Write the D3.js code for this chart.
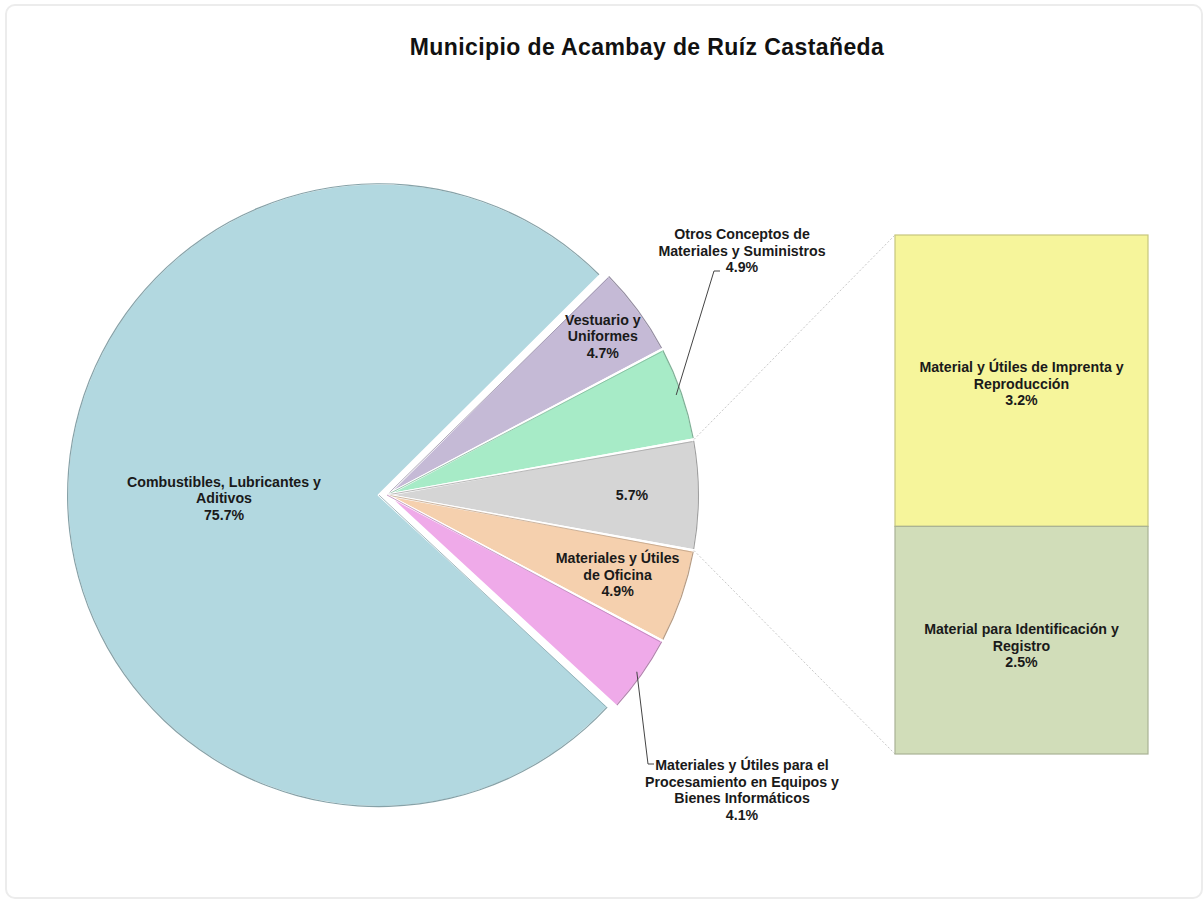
<!DOCTYPE html>
<html>
<head>
<meta charset="utf-8">
<script src="https://cdn.jsdelivr.net/npm/d3@7"></script>
<style>
  html, body { margin: 0; padding: 0; background: #fff; }
  svg { display: block; font-family: "Liberation Sans", Arial, sans-serif; }
</style>
</head>
<body>
<svg id="chart" width="1204" height="903"></svg>
<script>
// Pie slices, listed clockwise starting from the upper right
const pieCategories = [
  "Vestuario y Uniformes",
  "Otros Conceptos de Materiales y Suministros",
  "Otros",
  "Materiales y Útiles de Oficina",
  "Materiales y Útiles para el Procesamiento en Equipos y Bienes Informáticos",
  "Combustibles, Lubricantes y Aditivos"
];
const pieValues = [4.7, 4.9, 5.7, 4.9, 4.1, 75.7];
const pieColors = ["#c5bad6", "#a7ebc7", "#d5d5d5", "#f5d0ae", "#efaae9", "#b2d8e0"];

// Breakdown of the "Otros" slice, stacked top to bottom
const barCategories = [
  "Material y Útiles de Imprenta y Reproducción",
  "Material para Identificación y Registro"
];
const barValues = [3.2, 2.5];
const barColors = ["#f6f59b", "#d1ddb9"];

const title = "Municipio de Acambay de Ruíz Castañeda";

// Label text lines (as wrapped in the chart)
const pieLabelLines = [
  ["Vestuario y", "Uniformes"],
  ["Otros Conceptos de", "Materiales y Suministros"],
  [],
  ["Materiales y Útiles", "de Oficina"],
  ["Materiales y Útiles para el", "Procesamiento en Equipos y", "Bienes Informáticos"],
  ["Combustibles, Lubricantes y", "Aditivos"]
];
const barLabelLines = [
  ["Material y Útiles de Imprenta y", "Reproducción"],
  ["Material para Identificación y", "Registro"]
];

const svg = d3.select("#chart");
const fmt = d => d.toFixed(1) + "%";

// outer frame
svg.append("rect")
  .attr("x", 6).attr("y", 5).attr("width", 1196).attr("height", 893)
  .attr("rx", 9).attr("fill", "#fff")
  .attr("stroke", "#ececec").attr("stroke-width", 2);

svg.append("text")
  .attr("x", 647).attr("y", 55)
  .attr("text-anchor", "middle")
  .attr("font-size", 23).attr("font-weight", "bold")
  .attr("letter-spacing", 0.4)
  .attr("fill", "#111")
  .text(title);

// ---- pie ----
const cx = 387, cy = 495, R = 312;
const total = d3.sum(pieValues);
const otherIdx = pieCategories.indexOf("Otros");
const before = d3.sum(pieValues.slice(0, otherIdx)) + pieValues[otherIdx] / 2;
const start = Math.PI / 2 - before / total * 2 * Math.PI;

const pie = d3.pie().sort(null).value(d => d)
  .startAngle(start).endAngle(start + 2 * Math.PI);
const arcs = pie(pieValues);
const arc = d3.arc().innerRadius(0).outerRadius(R);

// exploded distance for the big slice
const explode = i => (i === pieValues.length - 1 ? 8 : 0);

const pieG = svg.append("g").attr("transform", `translate(${cx},${cy})`);

const slices = pieG.selectAll("g.slice").data(arcs).join("g")
  .attr("class", "slice")
  .attr("transform", (d, i) => {
    const m = (d.startAngle + d.endAngle) / 2;
    const e = explode(i);
    return `translate(${e * Math.sin(m)},${-e * Math.cos(m)})`;
  });

slices.append("path")
  .attr("d", arc)
  .attr("fill", (d, i) => pieColors[i])
  .attr("stroke", "#ffffff")
  .attr("stroke-width", 2.5)
  .attr("stroke-linejoin", "round");

// darker rim along the outer edge
slices.append("path")
  .attr("d", d => {
    const a = d3.arc().innerRadius(R - 1.2).outerRadius(R)
      .startAngle(d.startAngle + 0.004).endAngle(d.endAngle - 0.004);
    return a();
  })
  .attr("fill", (d, i) => d3.color(pieColors[i]).darker(0.8));

// subtle darker seam along one radial edge (bevel look)
slices.append("line")
  .attr("x1", 0).attr("y1", 0)
  .attr("x2", d => (R - 2) * Math.sin(d.startAngle + 0.006))
  .attr("y2", d => -(R - 2) * Math.cos(d.startAngle + 0.006))
  .attr("stroke", (d, i) => d3.color(pieColors[i]).darker(0.7))
  .attr("stroke-width", 0.8);

// ---- bar of "Otros" ----
const barX = 895, barW = 253, barTop = 235, barBottom = 754;
const y = d3.scaleLinear().domain([0, d3.sum(barValues)]).range([barTop, barBottom]);
let acc = 0;
const stacks = barValues.map(v => { const s = { y0: acc, y1: acc + v, v }; acc += v; return s; });

// connector lines from the "Otros" slice to the bar
const oa = arcs[otherIdx];
const pTop = [cx + R * Math.sin(oa.startAngle), cy - R * Math.cos(oa.startAngle)];
const pBot = [cx + R * Math.sin(oa.endAngle), cy - R * Math.cos(oa.endAngle)];
svg.append("line")
  .attr("x1", pTop[0]).attr("y1", pTop[1])
  .attr("x2", barX).attr("y2", y(0))
  .attr("stroke", "#c8c8c8").attr("stroke-width", 1).attr("stroke-dasharray", "2,2");
svg.append("line")
  .attr("x1", pBot[0]).attr("y1", pBot[1])
  .attr("x2", barX).attr("y2", y(d3.sum(barValues)))
  .attr("stroke", "#c8c8c8").attr("stroke-width", 1).attr("stroke-dasharray", "2,2");

const barG = svg.append("g");
barG.selectAll("rect").data(stacks).join("rect")
  .attr("x", barX).attr("width", barW)
  .attr("y", d => y(d.y0)).attr("height", d => y(d.y1) - y(d.y0))
  .attr("fill", (d, i) => barColors[i])
  .attr("stroke", (d, i) => d3.color(barColors[i]).darker(0.6))
  .attr("stroke-width", 1.2);

// ---- labels ----
const lineH = 16.5;
function block(g, x, yc, lines) {
  const t = g.append("text")
    .attr("text-anchor", "middle")
    .attr("font-size", 14.2).attr("font-weight", "bold")
    .attr("fill", "#1a1a1a");
  const y0 = yc - (lines.length - 1) * lineH / 2;
  lines.forEach((l, k) => {
    t.append("tspan").attr("x", x).attr("y", y0 + k * lineH).attr("dy", "0.35em").text(l);
  });
  return t;
}

const labelG = svg.append("g");
const polar = (d, r, i) => {
  const m = (d.startAngle + d.endAngle) / 2;
  const e = explode(i);
  return [cx + (r + e) * Math.sin(m), cy - (r + e) * Math.cos(m)];
};

// label radii for the inside labels
const insideR = { 0: 268, 2: 245, 3: 244, 5: 155 };
arcs.forEach((d, i) => {
  const lines = pieLabelLines[i].concat([fmt(pieValues[i])]);
  if (insideR[i] !== undefined) {
    const [lx, ly] = polar(d, insideR[i], i);
    block(labelG, lx, ly, lines);
  }
});

// outside labels with leader lines
const leaderColor = "#444";
{
  // Otros Conceptos de Materiales y Suministros
  const i = 1, d = arcs[i];
  const p = polar(d, R - 6, i);
  block(labelG, 742, 251, pieLabelLines[i].concat([fmt(pieValues[i])]));
  labelG.append("polyline")
    .attr("points", `${p[0]},${p[1]} 714,271 720,271`)
    .attr("fill", "none").attr("stroke", leaderColor).attr("stroke-width", 1);
}
{
  // Materiales y Útiles para el Procesamiento...
  const i = 4, d = arcs[i];
  const p = polar(d, R - 6, i);
  block(labelG, 742, 790, pieLabelLines[i].concat([fmt(pieValues[i])]));
  labelG.append("polyline")
    .attr("points", `${p[0]},${p[1]} 648,764 654,764`)
    .attr("fill", "none").attr("stroke", leaderColor).attr("stroke-width", 1);
}

// bar labels
stacks.forEach((s, i) => {
  const yc = i === 0 ? 384 : 646;
  block(labelG, barX + barW / 2, yc, barLabelLines[i].concat([fmt(s.v)]));
});
</script>
</body>
</html>
